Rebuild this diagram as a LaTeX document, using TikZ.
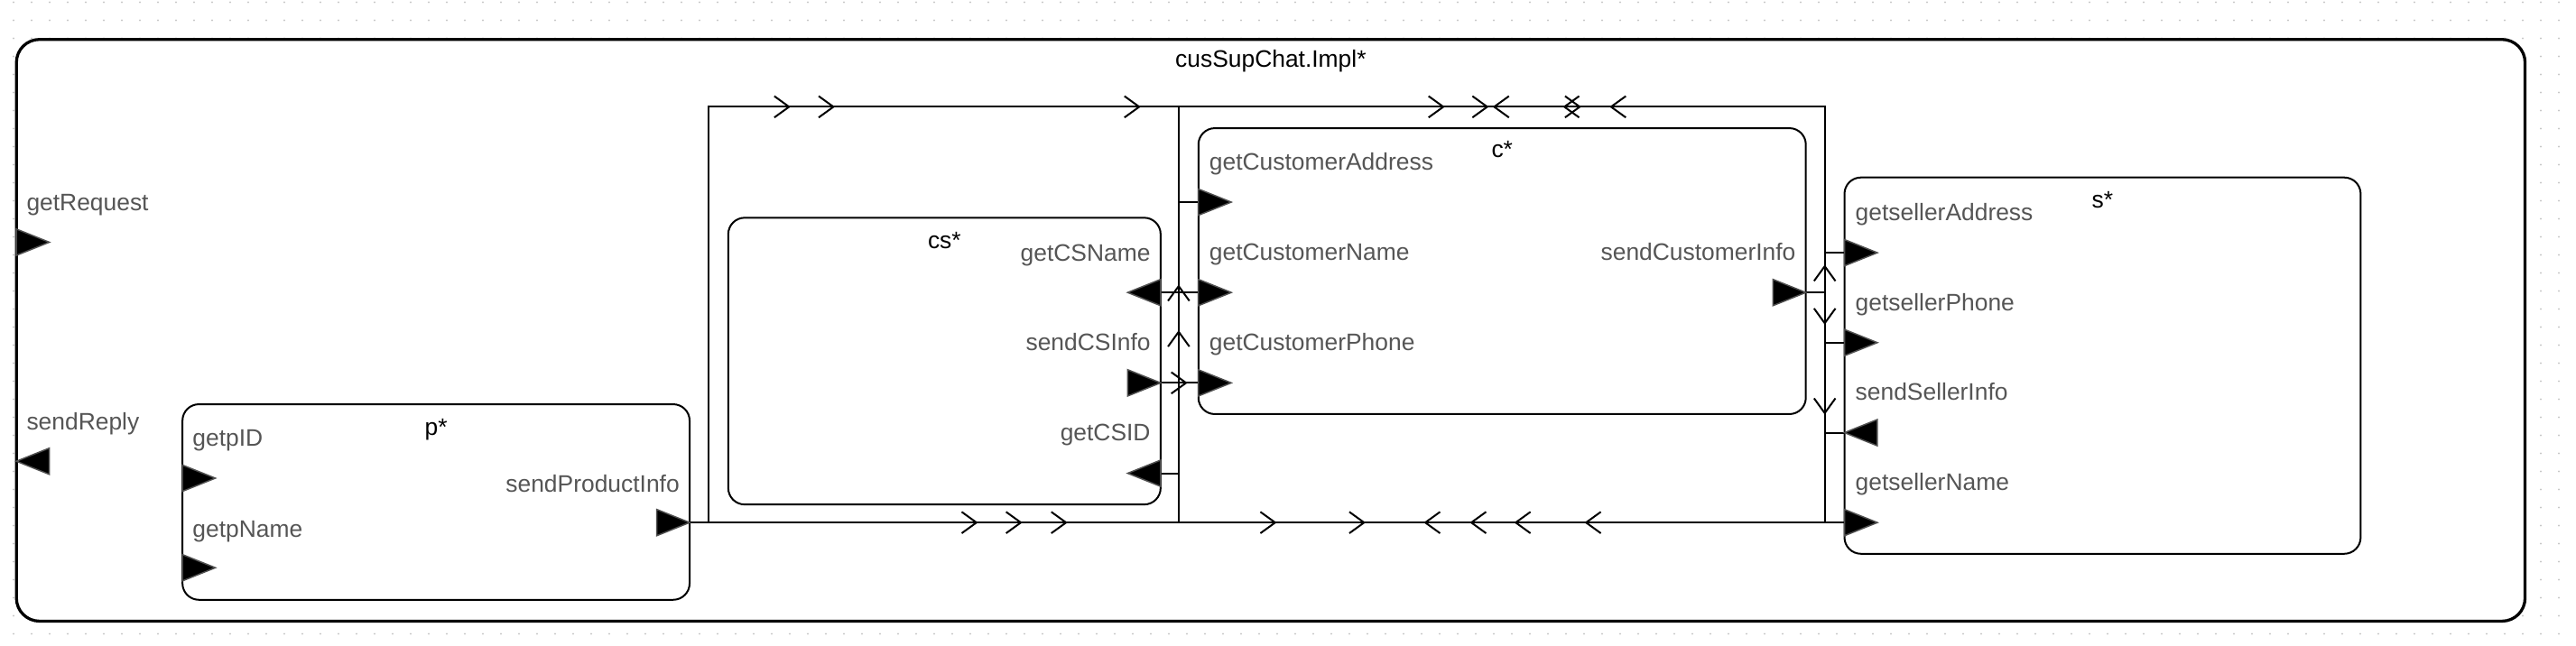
\documentclass[tikz,border=0pt]{standalone}
\usepackage{fontspec}
\setmainfont{Liberation Sans}
\definecolor{lblgray}{RGB}{85,85,85}
\definecolor{dotgray}{RGB}{200,200,200}
\definecolor{portedge}{RGB}{80,80,80}
\begin{document}
\begin{tikzpicture}[x=1pt,y=-1pt,
  font=\fontsize{14.5pt}{17pt}\selectfont,
  comp/.style={draw, line width=1.1pt, rounded corners=10pt, fill=white, inner sep=0pt},
  lbl/.style={text=lblgray, inner sep=0pt, text height=10.5pt, text depth=3pt},
  ttl/.style={text=black, inner sep=0pt, text height=10.5pt, text depth=3pt},
  wire/.style={line width=1.1pt},
  chev/.pic={\draw[line width=1.1pt] (-9,-6.5) -- (0,0) -- (-9,6.5);},
  portR/.pic={\filldraw[fill=black, draw=portedge, line width=0.8pt] (0,-8) -- (20,0) -- (0,8) -- cycle;},
  portL/.pic={\filldraw[fill=black, draw=portedge, line width=0.8pt] (20,-8) -- (0,0) -- (20,8) -- cycle;}]
\useasboundingbox (0,0) rectangle (1567,393.12);
\foreach \i in {0,...,141} \foreach \j in {0,...,35} \fill[dotgray] (8.24+10.981*\i,1.37+10.981*\j) circle (0.65pt);
\node[comp, line width=1.8pt, rounded corners=14pt, minimum width=1526pt, minimum height=354pt] (impl) at (773,201) {};
\node[ttl] (implT) at (773,37) {cusSupChat.Impl*};
\node[comp, minimum width=308.5pt, minimum height=119pt] (p) at (265.25,305.5) {};
\node[ttl] (pT) at (265.25,261) {p*};
\node[comp, minimum width=263pt, minimum height=174.5pt] (cs) at (574.5,219.75) {};
\node[ttl] (csT) at (574.5,147.5) {cs*};
\node[comp, minimum width=369.5pt, minimum height=174pt] (c) at (913.75,165) {};
\node[ttl] (cT) at (913.75,92) {c*};
\node[comp, minimum width=314pt, minimum height=229pt] (s) at (1279,222.5) {};
\node[ttl] (sT) at (1279,123) {s*};
\coordinate (w1) at (431,65);
\coordinate (w2) at (717,65);
\coordinate (w3) at (1110,65);
\coordinate (w4) at (431,318);
\coordinate (w5) at (717,318);
\coordinate (w6) at (1110,318);
\coordinate (getRequest) at (10,147.4);
\coordinate (sendReply) at (10,280.7);
\coordinate (pID) at (111,291);
\coordinate (pName) at (111,345.5);
\coordinate (pSend) at (419.5,318);
\coordinate (csName) at (706,178);
\coordinate (csInfo) at (706,233);
\coordinate (csID) at (706,288);
\coordinate (cAddr) at (729,123);
\coordinate (cName) at (729,178);
\coordinate (cPhone) at (729,233);
\coordinate (cInfo) at (1098.5,178);
\coordinate (sAddr) at (1122,153.8);
\coordinate (sPhone) at (1122,208.5);
\coordinate (sInfo) at (1122,263.3);
\coordinate (sName) at (1122,318);
\draw[wire] (pSend) -- (sName);
\draw[wire] (w4) -- (w1) -- (w3) -- (w6);
\draw[wire] (w2) -- (w5);
\draw[wire] (w2 |- cAddr) -- (cAddr);
\draw[wire] (csName) -- (cName);
\draw[wire] (csInfo) -- (cPhone);
\draw[wire] (csID) -- (w2 |- csID);
\draw[wire] (cInfo) -- (w3 |- cInfo);
\draw[wire] (w3 |- sAddr) -- (sAddr);
\draw[wire] (w3 |- sPhone) -- (sPhone);
\draw[wire] (w3 |- sInfo) -- (sInfo);
\pic at (getRequest) {portR};
\pic at (sendReply) {portL};
\pic at (pID) {portR};
\pic at (pName) {portR};
\pic at ([xshift=-20pt]pSend) {portR};
\pic at ([xshift=-20pt]csName) {portL};
\pic at ([xshift=-20pt]csInfo) {portR};
\pic at ([xshift=-20pt]csID) {portL};
\pic at (cAddr) {portR};
\pic at (cName) {portR};
\pic at (cPhone) {portR};
\pic at ([xshift=-20pt]cInfo) {portR};
\pic at (sAddr) {portR};
\pic at (sPhone) {portR};
\pic at (sInfo) {portL};
\pic at (sName) {portR};
\node[lbl, anchor=west] (getRequestL) at (16,124.6) {getRequest};
\node[lbl, anchor=west] (sendReplyL) at (16,257.8) {sendReply};
\node[lbl, anchor=west] (pIDL) at (117,268) {getpID};
\node[lbl, anchor=west] (pNameL) at (117,323) {getpName};
\node[lbl, anchor=east] (pSendL) at (413.5,295.6) {sendProductInfo};
\node[lbl, anchor=east] (csNameL) at (700,155) {getCSName};
\node[lbl, anchor=east] (csInfoL) at (700,209.8) {sendCSInfo};
\node[lbl, anchor=east] (csIDL) at (700,264.6) {getCSID};
\node[lbl, anchor=west] (cAddrL) at (735.5,100) {getCustomerAddress};
\node[lbl, anchor=west] (cNameL) at (735.5,154.7) {getCustomerName};
\node[lbl, anchor=west] (cPhoneL) at (735.5,209.5) {getCustomerPhone};
\node[lbl, anchor=east] (cInfoL) at (1092.5,154.7) {sendCustomerInfo};
\node[lbl, anchor=west] (sAddrL) at (1128.5,130.4) {getsellerAddress};
\node[lbl, anchor=west] (sPhoneL) at (1128.5,185.2) {getsellerPhone};
\node[lbl, anchor=west] (sInfoL) at (1128.5,239.9) {sendSellerInfo};
\node[lbl, anchor=west] (sNameL) at (1128.5,294.6) {getsellerName};
\foreach \x in {480,507,693,878,904.7,961} \pic at (\x,65) {chev};
\foreach \x in {908.9,951.6,980} \pic[rotate=180] at (\x,65) {chev};
\foreach \x in {594,621,648.5,775.7,829.8} \pic at (\x,318) {chev};
\foreach \x in {867,895,922,964.8} \pic[rotate=180] at (\x,318) {chev};
\foreach \y in {174.1,201.9} \pic[rotate=90] at (717,\y) {chev};
\pic at (721.5,233) {chev};
\pic[rotate=90] at (1110,162) {chev};
\foreach \y in {196.7,251.4} \pic[rotate=-90] at (1110,\y) {chev};
\end{tikzpicture}
\end{document}
